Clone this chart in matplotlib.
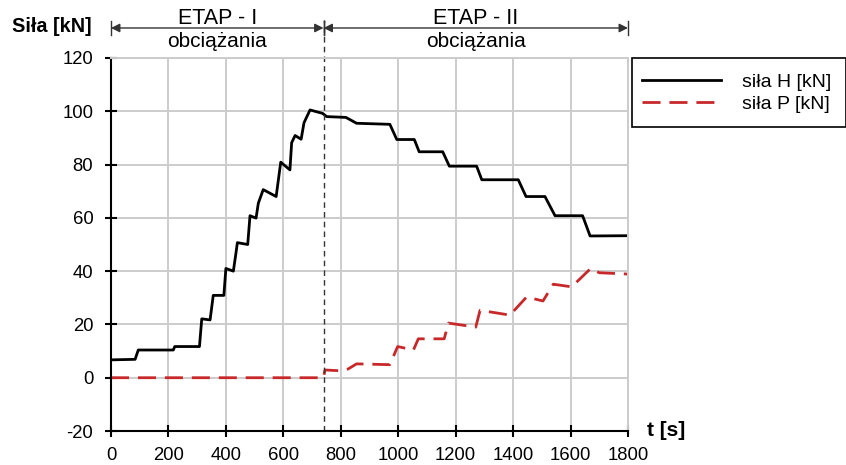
import matplotlib
matplotlib.use("Agg")
import matplotlib.pyplot as plt
from matplotlib.patches import Rectangle

plt.rcParams['font.family'] = ['Liberation Sans', 'DejaVu Sans']
plt.rcParams['axes.unicode_minus'] = False

# --- Data ---
t_H = [0, 84, 95, 217, 222, 308, 316, 345, 356, 393, 400, 426, 435, 440, 476,
       484, 505, 513, 530, 575, 591, 623, 629, 641, 662, 672, 693, 737, 751,
       818, 855, 971, 995, 1056, 1073, 1155, 1178, 1273, 1291, 1418, 1445,
       1511, 1546, 1642, 1668, 1800]
H = [6.7, 6.9, 10.4, 10.4, 11.7, 11.7, 22.1, 21.7, 30.9, 30.9, 41, 40, 46.7,
     50.7, 50, 60.8, 59.9, 65.5, 70.6, 68, 80.9, 78, 88.2, 90.9, 89.5, 95.7,
     100.5, 99.2, 98, 97.7, 95.5, 95.1, 89.4, 89.4, 84.8, 84.8, 79.4, 79.4,
     74.3, 74.3, 68, 68, 60.8, 60.8, 53.2, 53.3]

t_P = [0, 740, 745, 800, 826, 855, 971, 998, 1053, 1070, 1160, 1175, 1270,
       1285, 1389, 1447, 1504, 1540, 1604, 1670, 1700, 1800]
P = [0, 0, 2.9, 2.6, 3.3, 5.2, 4.9, 11.7, 10.4, 14.6, 14.6, 20.5, 19, 25.3,
     23.5, 30.3, 28.8, 35.1, 34.1, 41, 39.4, 38.9]

t_split = 740
xticks = list(range(0, 1801, 200))
yticks = list(range(-20, 121, 20))
stages = [("ETAP - I", "obciążania", 0, t_split),
          ("ETAP - II", "obciążania", t_split, 1800)]

# --- Figure ---
fig = plt.figure(figsize=(8.46, 4.65), dpi=100)
ax = fig.add_axes([0.1312, 0.0731, 0.6111, 0.8022])

ax.plot(t_H, H, color='black', lw=2.0, label='siła H [kN]')
ax.plot(t_P, P, color='#c8282a', lw=2.0, dashes=(6.5, 3.2), label='siła P [kN]')

ax.set_xlim(0, 1800)
ax.set_ylim(-20, 120)
ax.set_xticks(xticks)
ax.set_yticks(yticks)
ax.grid(True, color='#cccccc', lw=1.4)
ax.set_axisbelow(True)
for s in ('top', 'right'):
    ax.spines[s].set_color('#cccccc')
    ax.spines[s].set_linewidth(1.4)
for s in ('left', 'bottom'):
    ax.spines[s].set_linewidth(1.5)
ax.tick_params(direction='inout', length=8.5, width=1.5, labelsize=13.3)
ax.tick_params(axis='x', pad=7)
ax.tick_params(axis='y', pad=8.5)

# split line and stage arrows
ax.plot([t_split, t_split], [-20, 134.3], color='#333333', lw=1.0,
        dashes=(4, 3), clip_on=False)
y_arr = 131.26
for top, bottom, x0, x1 in stages:
    ax.annotate('', xy=(x0, y_arr), xytext=(x1, y_arr),
                arrowprops=dict(arrowstyle='<|-|>', color='#333333', lw=1.0,
                                mutation_scale=13, shrinkA=0, shrinkB=0),
                annotation_clip=False)
    for xb in (x0, x1):
        ax.plot([xb, xb], [128.6, 133.9], color='#333333', lw=1.0, clip_on=False)
    xc = (x0 + x1) / 2
    ax.text(xc, 132.8, top, ha='center', va='baseline', fontsize=15.5)
    ax.text(xc, 124.1, bottom, ha='center', va='baseline', fontsize=15)

fig.text(0.0142, 0.942, 'Siła [kN]', fontsize=14.3, fontweight='bold',
         ha='left', va='center')
fig.text(0.765, 0.075, 't [s]', fontsize=15, fontweight='bold',
         ha='left', va='center')

# legend: frameless, with a separate box
leg = ax.legend(loc='center left', bbox_to_anchor=(632 / 846, 1 - 93 / 465),
                bbox_transform=fig.transFigure, frameon=False, fontsize=14,
                handlelength=4.1, handletextpad=1.05, borderpad=0.5,
                labelspacing=0.2, borderaxespad=0)
fig.patches.append(Rectangle((632 / 846, 1 - 127 / 465), 214 / 846, 69 / 465,
                             transform=fig.transFigure, fill=False,
                             edgecolor='black', lw=1.2))

fig.savefig('out.png', dpi=100)
